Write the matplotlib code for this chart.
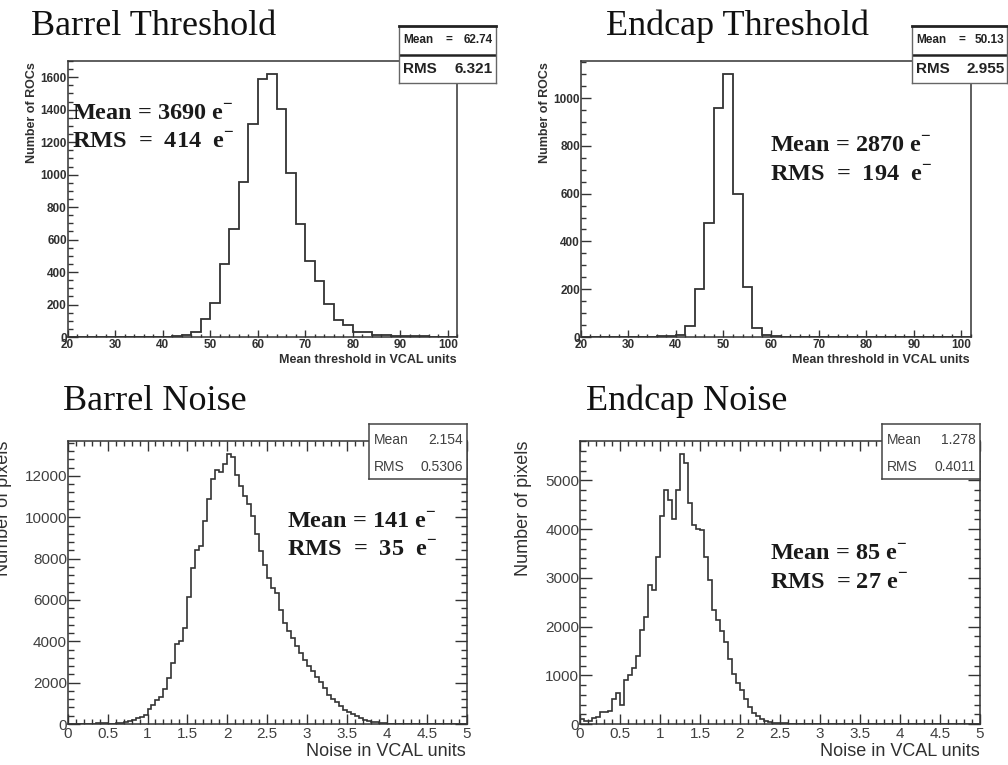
import numpy as np
import matplotlib
matplotlib.use("Agg")
import matplotlib.pyplot as plt
from matplotlib.ticker import MultipleLocator, FuncFormatter

plt.rcParams['mathtext.fontset'] = 'custom'
plt.rcParams['mathtext.rm'] = 'Liberation Serif'
plt.rcParams['mathtext.bf'] = 'Liberation Serif:bold'

# ---------------- data ----------------
thr_lo, thr_hi, thr_width = 20, 102, 2
barrel_thr_counts = [0, 0, 0, 0, 0, 0, 0, 0, 0, 0,
                     3, 8, 10, 28, 113, 212, 452, 668, 956, 1312,
                     1588, 1620, 1403, 1012, 693, 471, 342, 206, 107, 76,
                     31, 28, 14, 10, 8, 8, 6, 5, 3, 2, 0]
endcap_thr_counts = [0, 0, 0, 0, 0, 0, 0,
                     2, 3, 5, 7, 46, 199, 475, 958, 1100, 600, 211, 39, 8, 3, 2, 1,
                     0, 0, 0, 0, 0, 0, 0, 0, 0, 0, 0, 0, 0, 0, 0, 0, 0, 0]

noise_lo, noise_hi, noise_width = 0.0, 5.0, 0.05
barrel_noise_counts = [0, 0, 0, 5, 10, 15, 20, 25, 30, 40,
                       10, 20, 35, 55, 80, 140, 210, 270, 340, 420,
                       720, 930, 1170, 1330, 1690, 2220, 2940, 3870, 4020, 4630,
                       6160, 7570, 8440, 8600, 9810, 10900, 11860, 12300, 12190, 12560,
                       13040, 12910, 12060, 11500, 11010, 10660, 10050, 9210, 8380, 7680,
                       7070, 6560, 6320, 5510, 4900, 4520, 4150, 3750, 3420, 3100,
                       2810, 2540, 2250, 2010, 1740, 1410, 1210, 1050, 850, 690,
                       560, 470, 370, 290, 210, 160, 110, 80, 50, 30,
                       20, 15, 10, 8, 5, 3, 0, 0, 0, 0,
                       0, 0, 0, 0, 0, 0, 0, 0, 0, 0]
endcap_noise_counts = [100, 60, 60, 130, 150, 240, 250, 270, 510, 630,
                       400, 910, 1010, 1150, 1385, 1930, 2200, 2850, 2750, 3430,
                       4260, 4810, 4600, 4200, 4800, 5530, 5360, 4540, 4080, 4010,
                       3980, 3430, 2950, 2330, 2140, 1910, 1680, 1330, 1030, 840,
                       700, 510, 350, 225, 160, 100, 70, 50, 30, 25,
                       20, 15, 10, 8, 10, 5, 3, 0, 0, 0,
                       0, 0, 0, 0, 0, 0, 0, 0, 0, 0,
                       0, 0, 0, 0, 0, 0, 0, 0, 0, 0,
                       0, 0, 0, 0, 0, 0, 0, 0, 0, 0,
                       0, 0, 0, 0, 0, 0, 0, 0, 0, 0]

titles = ["Barrel Threshold", "Endcap Threshold", "Barrel Noise", "Endcap Noise"]
stat_means = ["62.74", "50.13", "2.154", "1.278"]
stat_rms = ["6.321", "2.955", "0.5306", "0.4011"]
ann_mean = ["Mean = 3690 e", "Mean = 2870 e", "Mean = 141 e", "Mean = 85 e"]
ann_rms = ["RMS  =  414  e", "RMS  =  194  e", "RMS  =  35  e", "RMS  = 27 e"]
thr_xlabel = "Mean threshold in VCAL units"
thr_ylabel = "Number of ROCs"
noise_xlabel = "Noise in VCAL units"
noise_ylabel = "Number of pixels"

# ---------------- layout helpers ----------------
W, H = 1008, 765
fig = plt.figure(figsize=(W / 100, H / 100), dpi=100)
fig.patch.set_facecolor("white")

def rect(x0, y0, x1, y1):
    return [x0 / W, 1 - y1 / H, (x1 - x0) / W, (y1 - y0) / H]

def P(x, y):
    return x / W, 1 - y / H

LINE = "#333333"
SERIF = "Liberation Serif"
SANS = "Liberation Sans"

thr_edges = np.arange(thr_lo, thr_hi + thr_width / 2, thr_width)
noise_edges = np.linspace(noise_lo, noise_hi, len(barrel_noise_counts) + 1)

def style_thr(ax, ymax, ymajor):
    ax.set_xlim(thr_lo, thr_hi)
    ax.set_ylim(0, ymax)
    ax.xaxis.set_major_locator(MultipleLocator(10))
    ax.xaxis.set_minor_locator(MultipleLocator(2))
    ax.yaxis.set_major_locator(MultipleLocator(ymajor))
    ax.yaxis.set_minor_locator(MultipleLocator(50))
    ax.tick_params(which='both', direction='in', top=False, right=False,
                   colors=LINE, width=1.0)
    ax.tick_params(axis='x', which='major', length=5, pad=1.5)
    ax.tick_params(axis='x', which='minor', length=2.5)
    ax.tick_params(axis='y', which='major', length=7, pad=0.5)
    ax.tick_params(axis='y', which='minor', length=3.5)
    for lab in ax.get_xticklabels() + ax.get_yticklabels():
        lab.set_fontfamily(SANS)
        lab.set_fontweight('bold')
        lab.set_fontsize(8.5)
        lab.set_color("#303030")
    for s in ax.spines.values():
        s.set_color(LINE)
        s.set_linewidth(1.1)

def style_noise(ax, ymax, ymajor, yminor):
    ax.set_xlim(noise_lo, noise_hi)
    ax.set_ylim(0, ymax)
    ax.xaxis.set_major_locator(MultipleLocator(0.5))
    ax.xaxis.set_minor_locator(MultipleLocator(0.1))
    ax.yaxis.set_major_locator(MultipleLocator(ymajor))
    ax.yaxis.set_minor_locator(MultipleLocator(yminor))
    ax.xaxis.set_major_formatter(FuncFormatter(lambda v, p: "%g" % v))
    ax.tick_params(which='both', direction='in', top=True, right=True,
                   colors=LINE, width=1.0)
    ax.tick_params(axis='x', which='major', length=7, pad=2)
    ax.tick_params(axis='x', which='minor', length=3.5)
    ax.tick_params(axis='y', which='major', length=8.5, pad=0.5)
    ax.tick_params(axis='y', which='minor', length=4.2)
    for lab in ax.get_xticklabels() + ax.get_yticklabels():
        lab.set_fontfamily(SANS)
        lab.set_fontsize(11)
        lab.set_color("#404040")
    for s in ax.spines.values():
        s.set_color(LINE)
        s.set_linewidth(1.1)

# ---------------- panels ----------------
ax1 = fig.add_axes(rect(67.5, 61, 457.3, 337))
ax1.stairs(barrel_thr_counts, thr_edges, color=LINE, lw=1.3)
style_thr(ax1, 1700, 200)

ax2 = fig.add_axes(rect(580.7, 61, 971, 337))
ax2.stairs(endcap_thr_counts, thr_edges, color=LINE, lw=1.3)
style_thr(ax2, 1155, 200)

ax3 = fig.add_axes(rect(67.7, 441, 466.7, 724))
ax3.stairs(barrel_noise_counts, noise_edges, color=LINE, lw=1.2)
style_noise(ax3, 13690, 2000, 400)

ax4 = fig.add_axes(rect(580, 441, 980, 724))
ax4.stairs(endcap_noise_counts, noise_edges, color=LINE, lw=1.2)
style_noise(ax4, 5806, 1000, 200)

# axis labels
fig.text(*P(457, 360), thr_xlabel, ha='right', va='center', fontfamily=SANS,
         fontweight='bold', fontsize=9, color="#303030")
fig.text(*P(970, 360), thr_xlabel, ha='right', va='center', fontfamily=SANS,
         fontweight='bold', fontsize=9, color="#303030")
fig.text(*P(32, 62), thr_ylabel, ha='center', va='top', rotation=90, fontfamily=SANS,
         fontweight='bold', fontsize=9, color="#303030")
fig.text(*P(545, 62), thr_ylabel, ha='center', va='top', rotation=90, fontfamily=SANS,
         fontweight='bold', fontsize=9, color="#303030")
fig.text(*P(466, 752), noise_xlabel, ha='right', va='center', fontfamily=SANS,
         fontsize=13, color="#303030")
fig.text(*P(980, 752), noise_xlabel, ha='right', va='center', fontfamily=SANS,
         fontsize=13, color="#303030")
fig.text(*P(4, 441), noise_ylabel, ha='center', va='top', rotation=90, fontfamily=SANS,
         fontsize=13, color="#303030")
fig.text(*P(523, 441), noise_ylabel, ha='center', va='top', rotation=90, fontfamily=SANS,
         fontsize=13, color="#303030")

# titles
title_pos = [(31, 35), (606, 35), (63, 410), (586, 410)]
for t, (x, y) in zip(titles, title_pos):
    fig.text(*P(x, y), t, ha='left', va='baseline', fontfamily=SERIF,
             fontsize=26, color="#111111")

# annotations (mean / rms in electrons)
ann_pos = [(72, 120, 148), (770, 152, 181), (287, 528, 556), (770, 560, 589)]
sup = r"$^{\mathbf{-}}$"
for m, r, (x, y1, y2) in zip(ann_mean, ann_rms, ann_pos):
    fig.text(*P(x, y1), m + sup, ha='left', va='baseline', fontfamily=SERIF,
             fontweight='bold', fontsize=17.5, color="#1a1a1a", zorder=10)
    fig.text(*P(x, y2), r + sup, ha='left', va='baseline', fontfamily=SERIF,
             fontweight='bold', fontsize=17.5, color="#1a1a1a", zorder=10)

# stat boxes
def thr_box(x0, x1, mean, rms):
    bx = fig.add_axes(rect(x0, 26, x1, 83))
    bx.set_zorder(5)
    bx.set_facecolor("white")
    bx.set_xticks([]); bx.set_yticks([])
    bx.set_xlim(0, 1); bx.set_ylim(0, 1)
    for s in bx.spines.values():
        s.set_color("#666666"); s.set_linewidth(1.0)
    bx.spines['top'].set_color("#222222"); bx.spines['top'].set_linewidth(2.0)
    bx.axhline(0.5, color="#222222", lw=1.8)
    bx.text(0.04, 0.75, "Mean", ha='left', va='center', fontfamily=SANS,
            fontweight='bold', fontsize=8.5, color="#222222")
    bx.text(0.52, 0.75, "=", ha='center', va='center', fontfamily=SANS,
            fontweight='bold', fontsize=8.5, color="#222222")
    bx.text(0.97, 0.75, mean, ha='right', va='center', fontfamily=SANS,
            fontweight='bold', fontsize=8.5, color="#222222")
    bx.text(0.04, 0.25, "RMS", ha='left', va='center', fontfamily=SANS,
            fontweight='bold', fontsize=11, color="#222222")
    bx.text(0.97, 0.25, rms, ha='right', va='center', fontfamily=SANS,
            fontweight='bold', fontsize=11, color="#222222")

def noise_box(x0, x1, mean, rms):
    bx = fig.add_axes(rect(x0, 424, x1, 479))
    bx.set_zorder(5)
    bx.set_facecolor("white")
    bx.set_xticks([]); bx.set_yticks([])
    bx.set_xlim(0, 1); bx.set_ylim(0, 1)
    for s in bx.spines.values():
        s.set_color("#444444"); s.set_linewidth(1.1)
    bx.text(0.05, 0.70, "Mean", ha='left', va='center', fontfamily=SANS,
            fontsize=10, color="#404040")
    bx.text(0.96, 0.70, mean, ha='right', va='center', fontfamily=SANS,
            fontsize=10, color="#404040")
    bx.text(0.05, 0.22, "RMS", ha='left', va='center', fontfamily=SANS,
            fontsize=10, color="#404040")
    bx.text(0.96, 0.22, rms, ha='right', va='center', fontfamily=SANS,
            fontsize=10, color="#404040")

thr_box(399.3, 495.7, stat_means[0], stat_rms[0])
thr_box(912.3, 1007.3, stat_means[1], stat_rms[1])
noise_box(369, 466.7, stat_means[2], stat_rms[2])
noise_box(882.3, 980, stat_means[3], stat_rms[3])

fig.savefig("out.png", dpi=100, facecolor="white")
